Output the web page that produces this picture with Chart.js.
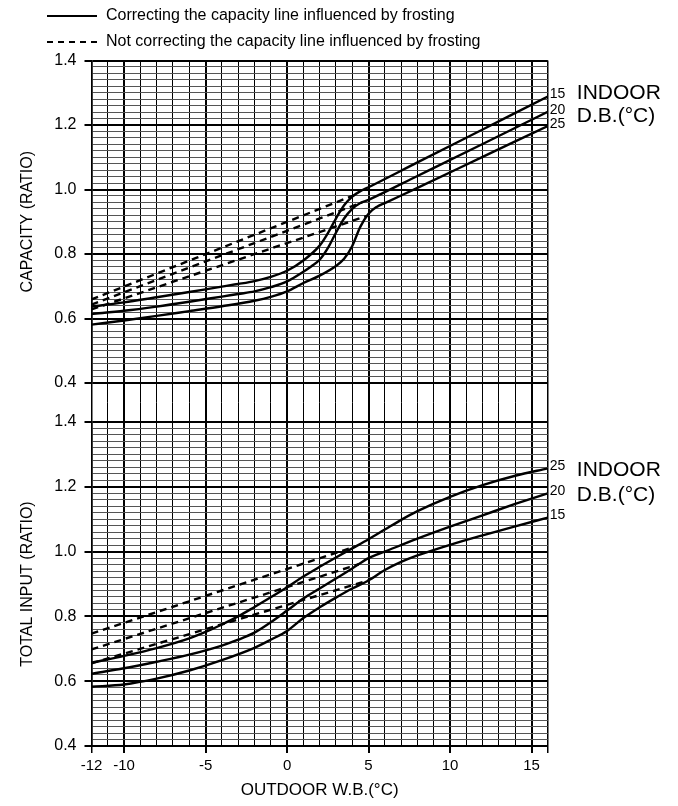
<!DOCTYPE html>
<html>
<head>
<meta charset="utf-8">
<script src="https://cdn.jsdelivr.net/npm/chart.js@4.4.1/dist/chart.umd.min.js"></script>
<style>
  html, body { margin: 0; padding: 0; background: #fff; }
  #wrap { width: 678px; height: 806px; position: relative; }
</style>
</head>
<body>
<div id="wrap"><canvas id="mycanvas"></canvas></div>
<script>
// capacity ratio, solid = corrected for frosting, by indoor D.B. (15/20/25)
var capX15 = [-12, -10, -8, -6, -4, -3, -2, -1, 0, 1, 2, 2.5, 3, 3.5, 4, 4.5, 5, 8, 12, 16];
var cap15  = [0.637, 0.650, 0.666, 0.682, 0.699, 0.707, 0.716, 0.729, 0.748, 0.780, 0.826, 0.864, 0.910, 0.951, 0.978, 0.995, 1.007, 1.084, 1.186, 1.288];
var capX20 = [-12, -10, -8, -6, -4, -3, -2, -1, 0, 1, 1.5, 2, 2.5, 3, 3.5, 4, 4.5, 5, 8, 12, 16];
var cap20  = [0.614, 0.624, 0.637, 0.652, 0.668, 0.676, 0.684, 0.697, 0.715, 0.745, 0.762, 0.782, 0.818, 0.866, 0.910, 0.940, 0.958, 0.968, 1.042, 1.141, 1.241];
var capX25 = [-12, -10, -8, -6, -4, -2, -1, 0, 1, 2, 3, 3.5, 4, 4.5, 5, 5.5, 6, 8, 12, 16];
var cap25  = [0.581, 0.594, 0.608, 0.623, 0.638, 0.655, 0.667, 0.684, 0.710, 0.733, 0.763, 0.785, 0.825, 0.885, 0.925, 0.946, 0.958, 1.005, 1.101, 1.197];
// capacity, not corrected (dashed)
var capDX15 = [-12, 4.1];  var capD15 = [0.659, 0.982];
var capDX20 = [-12, 4.6];  var capD20 = [0.643, 0.960];
var capDX25 = [-12, 4.9];  var capD25 = [0.628, 0.918];

// total input ratio
var inpX25 = [-12, -10, -8, -6, -5, -4, -3, -2, -1, 0, 1, 2, 3, 4, 5, 6, 7, 8, 10, 12, 14, 16];
var inp25  = [0.657, 0.678, 0.702, 0.732, 0.752, 0.775, 0.800, 0.829, 0.859, 0.890, 0.923, 0.953, 0.982, 1.010, 1.038, 1.068, 1.098, 1.125, 1.169, 1.205, 1.234, 1.257];
var inpX20 = [-12, -10, -8, -6, -4, -3, -2, -1, 0, 1, 2, 3, 4, 5, 6, 8, 10, 12, 14, 16];
var inp20  = [0.623, 0.640, 0.660, 0.682, 0.710, 0.728, 0.750, 0.782, 0.818, 0.855, 0.886, 0.917, 0.948, 0.980, 1.000, 1.040, 1.077, 1.112, 1.147, 1.180];
var inpX15 = [-12, -10, -8, -6, -4, -2, -1, 0, 1, 2, 3, 4, 5, 6, 7, 8, 10, 12, 14, 16];
var inp15  = [0.583, 0.590, 0.608, 0.633, 0.665, 0.703, 0.728, 0.755, 0.795, 0.828, 0.858, 0.886, 0.911, 0.943, 0.968, 0.988, 1.021, 1.050, 1.078, 1.105];
var inpDX25 = [-12, 4.2];  var inpD25 = [0.747, 1.016];
var inpDX20 = [-12, 4.4];  var inpD20 = [0.698, 0.961];
var inpDX15 = [-12, 5.0];  var inpD15 = [0.655, 0.911];

var xLabels = [-12, -10, -5, 0, 5, 10, 15];
var legendText = ['Correcting the capacity line influenced by frosting',
                  'Not correcting the capacity line influenced by frosting'];
var sideText = ['INDOOR', 'D.B.(\u00B0C)'];

var FONT = '"Liberation Sans", Arial, Helvetica, sans-serif';
Chart.defaults.font.family = FONT;
Chart.defaults.color = '#000';

function pts(xs, ys) {
  return xs.map(function(x, i) { return {x: x, y: ys[i]}; });
}
function line(xs, ys, axis, dashed, endLabel) {
  return {
    data: pts(xs, ys),
    yAxisID: axis,
    borderColor: '#000',
    borderWidth: 2.4,
    borderDash: dashed ? [7, 5] : [],
    pointRadius: 0,
    fill: false,
    cubicInterpolationMode: 'monotone',
    endLabel: endLabel
  };
}

function isMajorY(v) { return Math.abs(v * 5 - Math.round(v * 5)) < 1e-6; }

function yScale(weight, title) {
  return {
    type: 'linear',
    position: 'left',
    stack: 'ratio',
    stackWeight: weight,
    min: 0.4,
    max: 1.4,
    afterFit: function(s) { s.width = 91.5; },
    border: { display: true, color: '#000', width: 1.5 },
    ticks: {
      stepSize: 0.02,
      autoSkip: false,
      maxTicksLimit: 1000,
      padding: 8,
      font: { size: 16 },
      callback: function(v) { return isMajorY(v) ? v.toFixed(1) : ''; }
    },
    grid: {
      tickLength: 7,
      color: function(c) { return isMajorY(c.tick.value) ? '#000' : '#555'; },
      lineWidth: function(c) { return isMajorY(c.tick.value) ? 2 : 1; },
      tickColor: function(c) { return isMajorY(c.tick.value) ? '#000' : 'rgba(0,0,0,0)'; }
    },
    title: { display: true, text: title, font: { size: 16 }, padding: { top: 18, bottom: 0 } }
  };
}

var sidePlugin = {
  id: 'sideText',
  afterDraw: function(chart) {
    var ctx = chart.ctx, area = chart.chartArea;
    ctx.save();
    ctx.fillStyle = '#000';
    ctx.strokeStyle = '#000';
    ctx.lineWidth = 2;
    ctx.textAlign = 'left';
    ctx.textBaseline = 'middle';
    // legend
    ctx.font = '16px ' + FONT;
    legendText.forEach(function(t, i) {
      var y = 16 + i * 26;
      ctx.setLineDash(i ? [6, 5] : []);
      ctx.beginPath(); ctx.moveTo(47, y); ctx.lineTo(97, y); ctx.stroke();
      ctx.fillText(t, 106, y);
    });
    ctx.setLineDash([]);
    // curve end labels
    ctx.font = '14px ' + FONT;
    chart.data.datasets.forEach(function(ds, i) {
      if (!ds.endLabel) return;
      var pts = chart.getDatasetMeta(i).data;
      var p = pts[pts.length - 1];
      ctx.fillText(ds.endLabel, p.x + 2, p.y - 2);
    });
    // INDOOR D.B. captions
    ctx.font = '21px ' + FONT;
    var yT = chart.scales.yTop, yB = chart.scales.yBot;
    ctx.fillText(sideText[0], area.right + 29, yT.getPixelForValue(1.3));
    ctx.fillText(sideText[1], area.right + 29, yT.getPixelForValue(1.228));
    ctx.fillText(sideText[0], area.right + 29, yB.getPixelForValue(1.25));
    ctx.fillText(sideText[1], area.right + 29, yB.getPixelForValue(1.175));
    ctx.restore();
  }
};

var ctx = document.getElementById('mycanvas');
new Chart(ctx, {
  type: 'line',
  data: {
    datasets: [
      line(capX15, cap15, 'yTop', false, '15'),
      line(capX20, cap20, 'yTop', false, '20'),
      line(capX25, cap25, 'yTop', false, '25'),
      line(capDX15, capD15, 'yTop', true),
      line(capDX20, capD20, 'yTop', true),
      line(capDX25, capD25, 'yTop', true),
      line(inpX25, inp25, 'yBot', false, '25'),
      line(inpX20, inp20, 'yBot', false, '20'),
      line(inpX15, inp15, 'yBot', false, '15'),
      line(inpDX25, inpD25, 'yBot', true),
      line(inpDX20, inpD20, 'yBot', true),
      line(inpDX15, inpD15, 'yBot', true)
    ]
  },
  options: {
    responsive: true,
    maintainAspectRatio: false,
    animation: false,
    layout: { padding: { top: 60.5, right: 130.2, left: 0, bottom: 0 } },
    plugins: { legend: { display: false }, tooltip: { enabled: false } },
    scales: {
      x: {
        type: 'linear',
        min: -12,
        max: 16,
        afterFit: function(s) { s.height = 60; },
        border: { display: true, color: '#000', width: 2 },
        ticks: {
          stepSize: 1,
          autoSkip: false,
          maxRotation: 0,
          padding: 4,
          font: { size: 15 },
          callback: function(v) { return xLabels.indexOf(v) >= 0 ? String(v) : ''; }
        },
        grid: {
          tickLength: 7,
          color: function(c) { return '#000'; },
          lineWidth: function(c) {
            var v = c.tick.value;
            return (v % 5 === 0) ? 2 : (v === 16 || v === -12 ? 1.5 : 1);
          },
          tickColor: function(c) {
            var v = c.tick.value;
            return (xLabels.indexOf(v) >= 0 || v === 16) ? '#000' : 'rgba(0,0,0,0)';
          }
        },
        title: { display: true, text: 'OUTDOOR W.B.(\u00B0C)', font: { size: 17 }, padding: { top: 0, bottom: 5 } }
      },
      yBot: yScale(324, 'TOTAL INPUT (RATIO)'),
      yGap: {
        type: 'linear',
        position: 'left',
        stack: 'ratio',
        stackWeight: 39,
        min: 0,
        max: 1,
        afterFit: function(s) { s.width = 91.5; },
        border: { display: false },
        ticks: { display: false },
        grid: { display: false }
      },
      yTop: yScale(322.5, 'CAPACITY (RATIO)')
    }
  },
  plugins: [sidePlugin]
});
</script>
</body>
</html>
